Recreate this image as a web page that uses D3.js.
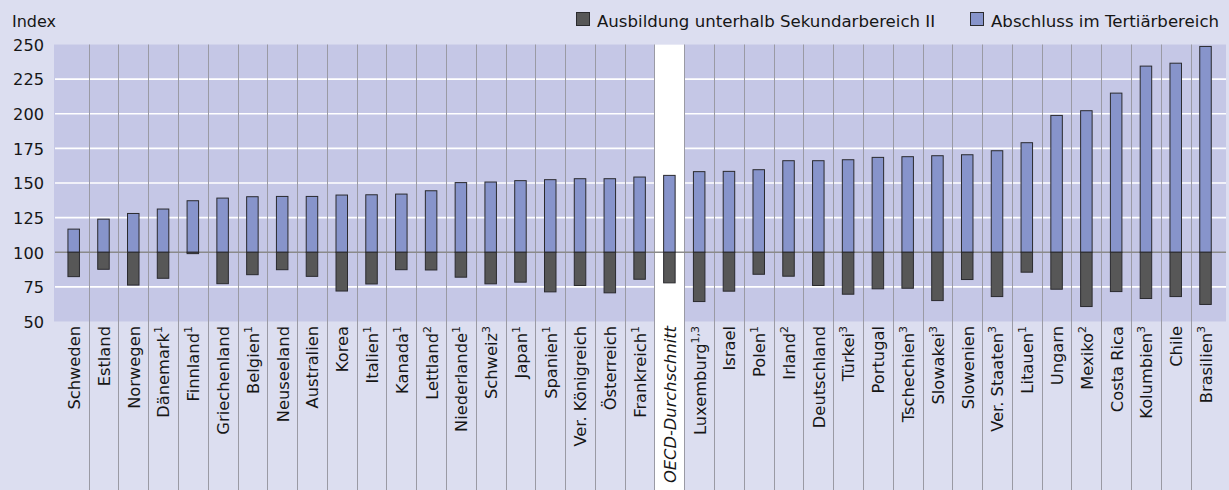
<!DOCTYPE html>
<html>
<head>
<meta charset="utf-8">
<script src="https://cdn.jsdelivr.net/npm/d3@7"></script>
<style>
  html, body { margin: 0; padding: 0; background: #dcdef0; }
  svg { display: block; }
  text { font-family: "DejaVu Sans", sans-serif; fill: #161616; }
</style>
</head>
<body>
<svg id="chart" width="1229" height="490"></svg>
<script>
// Countries (footnote marks kept separately)
const countries = [
  "Schweden", "Estland", "Norwegen", "Dänemark", "Finnland", "Griechenland",
  "Belgien", "Neuseeland", "Australien", "Korea", "Italien", "Kanada",
  "Lettland", "Niederlande", "Schweiz", "Japan", "Spanien", "Ver. Königreich",
  "Österreich", "Frankreich", "OECD-Durchschnitt", "Luxemburg", "Israel", "Polen",
  "Irland", "Deutschland", "Türkei", "Portugal", "Tschechien", "Slowakei",
  "Slowenien", "Ver. Staaten", "Litauen", "Ungarn", "Mexiko", "Costa Rica",
  "Kolumbien", "Chile", "Brasilien"
];
const notes = [
  "", "", "", "1", "1", "",
  "1", "", "", "", "1", "1",
  "2", "1", "3", "1", "1", "",
  "", "1", "", "1,3", "", "1",
  "2", "", "3", "", "3", "3",
  "", "3", "1", "", "2", "",
  "3", "", "3"
];
// Abschluss im Tertiärbereich (Sekundarbereich II = 100)
const tertiary = [
  116.7, 123.9, 128.0, 131.2, 137.2, 139.1,
  140.1, 140.3, 140.3, 141.3, 141.5, 142.0,
  144.4, 150.3, 150.7, 151.7, 152.4, 153.1,
  153.1, 154.3, 155.5, 158.2, 158.4, 159.6,
  166.1, 166.1, 166.8, 168.5, 169.0, 169.7,
  170.4, 173.3, 179.1, 198.8, 202.2, 214.9,
  234.4, 236.5, 248.6
];
// Ausbildung unterhalb Sekundarbereich II
const belowUpperSecondary = [
  82.4, 87.7, 76.3, 81.2, 99.0, 77.3,
  83.8, 87.4, 82.6, 72.0, 77.1, 87.4,
  87.2, 82.0, 77.2, 78.4, 71.4, 76.0,
  70.7, 80.5, 77.9, 64.4, 71.9, 84.1,
  82.7, 76.0, 69.7, 73.6, 74.0, 65.1,
  80.3, 68.0, 85.6, 73.3, 60.8, 71.6,
  66.6, 68.0, 62.3
];
const yTicks = [50, 75, 100, 125, 150, 175, 200, 225, 250];
const legendItems = ["Ausbildung unterhalb Sekundarbereich II", "Abschluss im Tertiärbereich"];
const averageName = "OECD-Durchschnitt";

const colors = {
  plotBg: "#c5c7e6",
  grid: "#ffffff",
  sep: "#9a9aa4",
  base: "#8a8a8a",
  tert: "#8794cb",
  low: "#575757",
  stroke: "#2a2a2e"
};

const W = 1229, H = 490;
const plot = { left: 54, right: 1226, top: 44.5, bottom: 321.5 };
const svg = d3.select("#chart");

const x = d3.scaleBand().domain(countries).range([58.8, 1220.4]).padding(0);
const y = d3.scaleLinear().domain([50, 250]).range([plot.bottom, plot.top]);
const barW = 11.5;

// plot background
svg.append("rect")
  .attr("x", plot.left).attr("y", plot.top)
  .attr("width", plot.right - plot.left).attr("height", plot.bottom - plot.top)
  .attr("fill", colors.plotBg);

// white column for the OECD average (plot + label area)
svg.append("rect")
  .attr("x", x(averageName)).attr("y", plot.top)
  .attr("width", x.bandwidth()).attr("height", H - plot.top)
  .attr("fill", "#ffffff");

// horizontal gridlines
svg.append("g")
  .selectAll("line")
  .data(yTicks.filter(t => t !== 50 && t !== 250 && t !== 100))
  .join("line")
  .attr("x1", plot.left + 1).attr("x2", plot.right)
  .attr("y1", d => y(d)).attr("y2", d => y(d))
  .attr("stroke", colors.grid).attr("stroke-width", 1.6);

// column separators, running down through the label area
svg.append("g")
  .selectAll("line")
  .data(countries.slice(1))
  .join("line")
  .attr("x1", d => Math.round(x(d)) + 0.5).attr("x2", d => Math.round(x(d)) + 0.5)
  .attr("y1", plot.top).attr("y2", H)
  .attr("stroke", colors.sep).attr("stroke-width", 1);

// baseline at 100
svg.append("line")
  .attr("x1", plot.left + 1).attr("x2", plot.right)
  .attr("y1", y(100)).attr("y2", y(100))
  .attr("stroke", colors.base).attr("stroke-width", 1.5);

// bars above 100 (tertiary)
svg.append("g")
  .selectAll("rect")
  .data(countries)
  .join("rect")
  .attr("x", d => x(d) + x.bandwidth() / 2 - barW / 2)
  .attr("y", (d, i) => y(tertiary[i]))
  .attr("width", barW)
  .attr("height", (d, i) => y(100) - y(tertiary[i]))
  .attr("fill", colors.tert)
  .attr("stroke", colors.stroke).attr("stroke-width", 1);

// bars below 100
svg.append("g")
  .selectAll("rect")
  .data(countries)
  .join("rect")
  .attr("x", d => x(d) + x.bandwidth() / 2 - barW / 2)
  .attr("y", y(100))
  .attr("width", barW)
  .attr("height", (d, i) => y(belowUpperSecondary[i]) - y(100))
  .attr("fill", colors.low)
  .attr("stroke", colors.stroke).attr("stroke-width", 1);

// y axis labels
const yAxis = d3.axisLeft(y).tickValues(yTicks).tickSize(0).tickPadding(0);
const yg = svg.append("g").attr("transform", `translate(${44},0)`).call(yAxis);
yg.select(".domain").remove();
yg.selectAll("text")
  .attr("font-family", "DejaVu Sans, sans-serif")
  .attr("font-size", 16.2)
  .attr("fill", "#161616")
  .attr("dy", "0.36em");

svg.append("text")
  .attr("x", 12).attr("y", 27)
  .attr("font-size", 16)
  .text("Index");

// category labels, rotated
const labels = svg.append("g")
  .selectAll("text")
  .data(countries)
  .join("text")
  .attr("transform", d => `translate(${x(d) + x.bandwidth() / 2 + 6.4},${326}) rotate(-90)`)
  .attr("text-anchor", "end")
  .attr("font-size", 16.3)
  .attr("font-style", d => d === averageName ? "italic" : null);
labels.append("tspan").text(d => d);
labels.filter((d, i) => notes[i] !== "")
  .append("tspan")
  .attr("font-size", 11)
  .attr("dy", -7)
  .text(d => notes[countries.indexOf(d)]);

// legend
const legend = svg.append("g");
const legendX = [576, 970];
const legendFill = [colors.low, colors.tert];
legendItems.forEach((name, i) => {
  legend.append("rect")
    .attr("x", legendX[i] + 0.5).attr("y", 12.5)
    .attr("width", 13).attr("height", 13)
    .attr("fill", legendFill[i])
    .attr("stroke", colors.stroke).attr("stroke-width", 1);
  legend.append("text")
    .attr("x", legendX[i] + 21).attr("y", 27)
    .attr("font-size", 16.6)
    .text(name);
});
</script>
</body>
</html>
